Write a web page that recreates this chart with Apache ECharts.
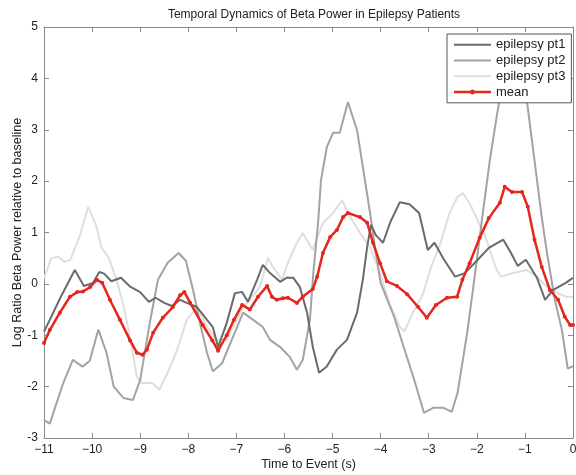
<!DOCTYPE html>
<html>
<head>
<meta charset="utf-8">
<script src="https://cdn.jsdelivr.net/npm/echarts@6/dist/echarts.min.js"></script>
<style>html,body{margin:0;padding:0;background:#fff}#c{width:576px;height:475px}</style>
</head>
<body>
<div id="c"></div>
<script>
const seriesNames = ['epilepsy pt1', 'epilepsy pt2', 'epilepsy pt3', 'mean'];
const xTicks = [-11, -10, -9, -8, -7, -6, -5, -4, -3, -2, -1, 0];
const yTicks = [-3, -2, -1, 0, 1, 2, 3, 4, 5];

const pt1 = [[-11,-0.93],[-10.88,-0.70],[-10.65,-0.25],[-10.36,0.27],[-10.17,-0.04],[-9.98,0.02],[-9.85,0.23],[-9.75,0.2],[-9.6,0.05],[-9.4,0.12],[-9.2,-0.06],[-9.0,-0.16],[-8.82,-0.35],[-8.68,-0.27],[-8.5,-0.37],[-8.34,-0.43],[-8.17,-0.31],[-8.03,-0.37],[-7.82,-0.45],[-7.61,-0.70],[-7.49,-0.84],[-7.38,-1.23],[-7.2,-0.76],[-7.03,-0.18],[-6.88,-0.16],[-6.76,-0.35],[-6.57,0.08],[-6.45,0.37],[-6.3,0.21],[-6.09,0.04],[-5.95,0.12],[-5.82,0.12],[-5.68,-0.06],[-5.53,-0.56],[-5.41,-1.23],[-5.28,-1.73],[-5.12,-1.61],[-4.91,-1.28],[-4.7,-1.09],[-4.49,-0.56],[-4.37,0.08],[-4.28,0.72],[-4.2,1.15],[-4.1,0.95],[-3.95,0.8],[-3.8,1.2],[-3.6,1.59],[-3.4,1.55],[-3.2,1.38],[-3.02,0.66],[-2.88,0.80],[-2.7,0.5],[-2.45,0.14],[-2.25,0.21],[-2.0,0.45],[-1.75,0.7],[-1.45,0.86],[-1.3,0.62],[-1.15,0.35],[-0.98,0.47],[-0.75,0.12],[-0.58,-0.31],[-0.42,-0.12],[-0.15,0.02],[0,0.12]];

const pt2 = [[-11,-2.65],[-10.88,-2.72],[-10.6,-1.93],[-10.4,-1.48],[-10.2,-1.61],[-10.05,-1.5],[-9.87,-0.89],[-9.7,-1.34],[-9.55,-2.0],[-9.35,-2.22],[-9.15,-2.26],[-9.0,-1.87],[-8.8,-0.76],[-8.63,0.08],[-8.43,0.41],[-8.2,0.6],[-8.05,0.45],[-7.9,-0.12],[-7.76,-0.75],[-7.61,-1.34],[-7.49,-1.70],[-7.3,-1.55],[-7.07,-1.03],[-6.86,-0.56],[-6.65,-0.70],[-6.45,-0.84],[-6.3,-1.09],[-6.09,-1.23],[-5.89,-1.42],[-5.74,-1.67],[-5.62,-1.48],[-5.47,-0.70],[-5.4,0.21],[-5.3,1.2],[-5.24,2.02],[-5.12,2.66],[-4.99,2.94],[-4.85,2.94],[-4.68,3.54],[-4.49,2.99],[-4.37,2.28],[-4.22,1.38],[-4.1,0.6],[-4.0,0.02],[-3.72,-0.64],[-3.52,-1.23],[-3.3,-1.87],[-3.1,-2.51],[-2.9,-2.41],[-2.7,-2.41],[-2.52,-2.49],[-2.4,-2.12],[-2.2,-0.95],[-2.05,0.1],[-1.9,1.2],[-1.73,2.4],[-1.58,3.3],[-1.45,4.0],[-1.25,4.4],[-1.05,4.0],[-0.95,3.5],[-0.8,2.4],[-0.65,1.3],[-0.54,0.6],[-0.38,-0.3],[-0.23,-0.9],[-0.11,-1.65],[0,-1.6]];

const pt3 = [[-11,0.1],[-10.85,0.5],[-10.7,0.53],[-10.58,0.43],[-10.45,0.47],[-10.25,0.95],[-10.08,1.5],[-9.92,1.15],[-9.8,0.7],[-9.65,0.5],[-9.5,0.1],[-9.35,-0.4],[-9.2,-1.1],[-9.07,-1.81],[-8.97,-1.93],[-8.75,-1.93],[-8.6,-2.06],[-8.4,-1.67],[-8.23,-1.28],[-8.03,-0.70],[-7.82,-0.45],[-7.61,-0.84],[-7.4,-1.09],[-7.2,-1.09],[-6.99,-0.70],[-6.86,-0.45],[-6.72,-0.31],[-6.51,-0.06],[-6.34,0.51],[-6.24,0.33],[-6.05,0.08],[-5.93,0.41],[-5.74,0.80],[-5.62,0.99],[-5.41,0.66],[-5.2,1.19],[-4.99,1.38],[-4.8,1.63],[-4.68,1.38],[-4.43,0.99],[-4.22,0.72],[-4.01,0.2],[-3.81,-0.4],[-3.6,-0.84],[-3.5,-0.92],[-3.33,-0.56],[-3.12,-0.2],[-2.95,0.33],[-2.77,0.75],[-2.56,1.4],[-2.4,1.69],[-2.29,1.77],[-2.14,1.55],[-1.94,1.15],[-1.85,1.0],[-1.6,0.3],[-1.5,0.14],[-1.25,0.21],[-0.96,0.27],[-0.75,0.14],[-0.54,-0.06],[-0.33,-0.18],[-0.13,-0.25],[0,-0.25]];

const meanData = [[-11,-1.15],[-10.88,-0.9],[-10.67,-0.56],[-10.46,-0.25],[-10.31,-0.16],[-10.19,-0.15],[-10.04,-0.06],[-9.9,0.08],[-9.79,0.02],[-9.63,-0.31],[-9.42,-0.7],[-9.21,-1.1],[-9.07,-1.34],[-8.95,-1.38],[-8.86,-1.28],[-8.73,-0.95],[-8.53,-0.66],[-8.32,-0.45],[-8.17,-0.22],[-8.08,-0.16],[-7.96,-0.37],[-7.7,-0.8],[-7.5,-1.1],[-7.38,-1.3],[-7.2,-1.0],[-7.05,-0.7],[-6.88,-0.41],[-6.72,-0.5],[-6.55,-0.25],[-6.36,-0.04],[-6.26,-0.25],[-6.16,-0.31],[-6.03,-0.28],[-5.93,-0.27],[-5.74,-0.37],[-5.62,-0.25],[-5.41,-0.1],[-5.32,0.14],[-5.2,0.6],[-5.05,0.91],[-4.91,1.05],[-4.78,1.3],[-4.68,1.38],[-4.43,1.3],[-4.28,1.19],[-4.16,0.8],[-4.01,0.4],[-3.87,0.05],[-3.66,-0.04],[-3.45,-0.2],[-3.22,-0.45],[-3.04,-0.66],[-2.85,-0.41],[-2.62,-0.27],[-2.41,-0.25],[-2.3,0.08],[-2.15,0.4],[-1.94,0.9],[-1.75,1.28],[-1.52,1.58],[-1.42,1.89],[-1.27,1.79],[-1.06,1.79],[-0.94,1.5],[-0.8,0.86],[-0.65,0.33],[-0.48,-0.12],[-0.31,-0.31],[-0.17,-0.64],[-0.06,-0.8],[0,-0.8]];

const FONT = '"Liberation Sans", Arial, Helvetica, sans-serif';
const frameColor = '#8a8a8a';
const colors = ['#6a6a6a', '#a3a3a3', '#dedede', '#e5261d'];
const fmtX = v => v < 0 ? '\u2212' + Math.abs(v) : String(v);
const lineIcon = 'path://M0,0H37V2H0Z';
const meanIcon = 'path://M0,1.2H16V3.8H0Z M21,1.2H37V3.8H21Z M16,2.5A2.5,2.5 0 1,1 21,2.5A2.5,2.5 0 1,1 16,2.5Z';

const chart = echarts.init(document.getElementById('c'), null, {renderer: 'canvas'});

function axisBase(extra) {
  return Object.assign({
    type: 'value',
    axisLine: {show: true, onZero: false, lineStyle: {color: frameColor, width: 1}},
    axisTick: {show: true, inside: true, length: 5, lineStyle: {color: frameColor}},
    splitLine: {show: false},
  }, extra);
}

chart.setOption({
  animation: false,
  backgroundColor: '#fff',
  title: {
    text: 'Temporal Dynamics of Beta Power in Epilepsy Patients',
    left: 309, top: 4, textAlign: 'center',
    textStyle: {fontFamily: FONT, fontSize: 12, fontWeight: 'normal', color: '#222'}
  },
  grid: {left: 44, right: 3, top: 27, bottom: 37, containLabel: false, outerBoundsMode: 'none'},
  legend: {
    orient: 'vertical', left: 447, top: 34,
    data: [
      {name: seriesNames[0], icon: lineIcon},
      {name: seriesNames[1], icon: lineIcon},
      {name: seriesNames[2], icon: lineIcon},
      {name: seriesNames[3], icon: meanIcon}
    ],
    backgroundColor: '#fff', borderColor: '#555', borderWidth: 1, borderRadius: 0,
    padding: [3, 6, 3, 7],
    itemWidth: 37, itemHeight: 11, itemGap: 0,
    textStyle: {fontFamily: FONT, fontSize: 13, color: '#222', lineHeight: 15.7},
    z: 10
  },
  xAxis: [
    axisBase({
      min: xTicks[0], max: xTicks[xTicks.length - 1], interval: 1, position: 'bottom',
      name: 'Time to Event (s)', nameLocation: 'middle', nameGap: 20, nameMoveOverlap: false,
      nameTextStyle: {fontFamily: FONT, fontSize: 12.5, color: '#222'},
      axisLabel: {fontFamily: FONT, fontSize: 12, color: '#222', margin: 6, formatter: fmtX}
    }),
    axisBase({
      min: xTicks[0], max: xTicks[xTicks.length - 1], interval: 1, position: 'top',
      axisLabel: {show: false}
    })
  ],
  yAxis: [
    axisBase({
      min: yTicks[0], max: yTicks[yTicks.length - 1], interval: 1, position: 'left',
      name: 'Log Ratio Beta Power relative to baseline', nameLocation: 'middle', nameGap: 20, nameMoveOverlap: false,
      nameTextStyle: {fontFamily: FONT, fontSize: 12.5, color: '#222'},
      axisLabel: {fontFamily: FONT, fontSize: 12, color: '#222', margin: 6}
    }),
    axisBase({
      min: yTicks[0], max: yTicks[yTicks.length - 1], interval: 1, position: 'right',
      axisLabel: {show: false}
    })
  ],
  series: [
    {name: seriesNames[0], type: 'line', data: pt1, symbol: 'none',
     lineStyle: {color: colors[0], width: 2}, itemStyle: {color: colors[0]}, z: 3},
    {name: seriesNames[1], type: 'line', data: pt2, symbol: 'none',
     lineStyle: {color: colors[1], width: 2}, itemStyle: {color: colors[1]}, z: 2},
    {name: seriesNames[2], type: 'line', data: pt3, symbol: 'none',
     lineStyle: {color: colors[2], width: 2}, itemStyle: {color: colors[2]}, z: 1},
    {name: seriesNames[3], type: 'line', data: meanData, symbol: 'circle', symbolSize: 4, showAllSymbol: true,
     lineStyle: {color: colors[3], width: 2.5}, itemStyle: {color: colors[3]}, z: 4}
  ]
});
</script>
</body>
</html>
